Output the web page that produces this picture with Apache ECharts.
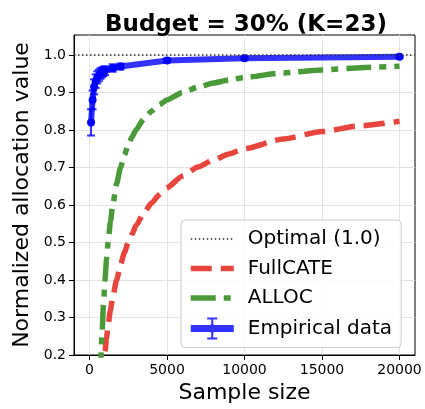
<!DOCTYPE html>
<html><head><meta charset="utf-8">
<script src="https://cdn.jsdelivr.net/npm/echarts@6/dist/echarts.min.js"></script>
<style>html,body{margin:0;padding:0;background:#fff}#c{width:425px;height:409px}</style>
</head><body><div id="c"></div>
<script>
const xTicks = [0, 5000, 10000, 15000, 20000];
const yTicks = [0.2, 0.3, 0.4, 0.5, 0.6, 0.7, 0.8, 0.9, 1.0];
const curveX = [700, 800, 900, 1000, 1100, 1200, 1350, 1500, 1750, 2000, 2250, 2500, 2750, 3000, 3500, 4000, 4500, 5000, 6000, 7000, 8000, 9000, 10000, 12500, 15000, 17500, 20000];
const fullcate = [0.05, 0.12, 0.17, 0.21, 0.245, 0.28, 0.32, 0.355, 0.40, 0.44, 0.473, 0.50, 0.523, 0.545, 0.578, 0.605, 0.627, 0.646, 0.677, 0.701, 0.72, 0.736, 0.75, 0.776, 0.796, 0.811, 0.823];
const alloc = [0.14, 0.25, 0.333, 0.40, 0.455, 0.50, 0.556, 0.60, 0.657, 0.70, 0.733, 0.76, 0.782, 0.80, 0.829, 0.85, 0.867, 0.88, 0.90, 0.914, 0.925, 0.933, 0.94, 0.952, 0.96, 0.966, 0.97];
const empX = [100, 200, 300, 400, 500, 600, 700, 800, 900, 1000, 1500, 2000, 5000, 10000, 20000];
const empY = [0.82, 0.88, 0.915, 0.93, 0.94, 0.945, 0.95, 0.953, 0.956, 0.958, 0.965, 0.969, 0.985, 0.991, 0.995];
const empErr = [0.035, 0.025, 0.02, 0.018, 0.016, 0.015, 0.014, 0.013, 0.012, 0.012, 0.01, 0.008, 0.005, 0.004, 0.003];
const optimalValue = 1.0;
const xMin = -1000, xMax = 21000, yMin = 0.2, yMax = 1.053;

const FONT = 'DejaVu Sans';
const BLUE = 'rgba(0,0,255,0.8)';
const RED = '#e8453c';
const GREEN = '#4a9a3a';
const RED_DASH = [21, 9];
const GREEN_DASH = [25, 8, 7, 8];
const DOT = [1.5, 2.5];

const chart = echarts.init(document.getElementById('c'), null, {renderer: 'canvas'});
const empIcon = 'path://M0 7.5 L43 7.5 L43 14.5 L0 14.5 Z ' +
  'M20.5 0 L22.5 0 L22.5 22 L20.5 22 Z ' +
  'M16.5 0 L26.5 0 L26.5 2 L16.5 2 Z M16.5 20 L26.5 20 L26.5 22 L16.5 22 Z ' +
  'M21.5 6.5 L24.7 7.8 L26 11 L24.7 14.2 L21.5 15.5 L18.3 14.2 L17 11 L18.3 7.8 Z';
const hidden = {opacity: 0, color: 'transparent', borderWidth: 0};

chart.setOption({
  animation: false,
  backgroundColor: '#fff',
  title: {
    text: 'Budget = 30% (K=23)', left: 100, top: 9,
    textStyle: {fontFamily: FONT, fontSize: 23, fontWeight: 'bold', color: '#000'}
  },
  grid: {left: 74, right: 10, top: 35, bottom: 50, show: true, borderColor: '#000', borderWidth: 1, backgroundColor: 'transparent'},
  legend: {
    orient: 'vertical', left: 181, top: 220,
    itemWidth: 43, itemHeight: 22, itemGap: 9.5,
    padding: [9, 9, 8, 7],
    backgroundColor: 'rgba(255,255,255,0.85)', borderColor: '#cccccc', borderWidth: 1, borderRadius: 4,
    textStyle: {fontFamily: FONT, fontSize: 20, color: '#000', padding: [0, 0, 0, 9]},
    data: [
      {name: 'Optimal (1.0)', itemStyle: hidden, lineStyle: {color: '#333', width: 1.5, type: DOT}},
      {name: 'FullCATE', itemStyle: hidden, lineStyle: {color: RED, width: 5.5, type: RED_DASH}},
      {name: 'ALLOC', itemStyle: hidden, lineStyle: {color: GREEN, width: 5.5, type: GREEN_DASH}},
      {name: 'Empirical data', icon: empIcon, itemStyle: {color: BLUE}}
    ]
  },
  xAxis: {
    type: 'value', min: xMin, max: xMax,
    name: 'Sample size', nameLocation: 'middle', nameGap: 27,
    nameTextStyle: {fontFamily: FONT, fontSize: 22, color: '#000'},
    axisLine: {show: true, onZero: false, lineStyle: {color: '#000', width: 1}},
    axisTick: {show: true, length: 5, lineStyle: {color: '#000'}, customValues: xTicks},
    axisLabel: {fontFamily: FONT, fontSize: 14, color: '#000', margin: 8, customValues: xTicks, formatter: v => String(v)},
    splitLine: {show: true, lineStyle: {color: '#e3e3e3', width: 1}}
  },
  yAxis: {
    type: 'value', min: yMin, max: yMax,
    name: 'Normalized allocation value', nameLocation: 'middle', nameGap: 41,
    nameTextStyle: {fontFamily: FONT, fontSize: 22, color: '#000'},
    axisLine: {show: true, onZero: false, lineStyle: {color: '#000', width: 1}},
    axisTick: {show: true, length: 5, lineStyle: {color: '#000'}, customValues: yTicks},
    axisLabel: {fontFamily: FONT, fontSize: 14, color: '#000', margin: 8, customValues: yTicks, formatter: v => v.toFixed(1)},
    splitLine: {show: true, lineStyle: {color: '#e3e3e3', width: 1}}
  },
  series: [
    {
      name: 'Optimal (1.0)', type: 'line', symbol: 'none', silent: true,
      data: [[xMin, optimalValue], [xMax, optimalValue]],
      lineStyle: {color: '#333', width: 1.5, type: DOT}, z: 5
    },
    {
      name: 'FullCATE', type: 'line', symbol: 'none', clip: true, smooth: 0.2, smoothMonotone: 'x',
      data: curveX.map((x, i) => [x, fullcate[i]]),
      lineStyle: {color: RED, width: 5.5, type: RED_DASH}, z: 2
    },
    {
      name: 'ALLOC', type: 'line', symbol: 'none', clip: true, smooth: 0.2, smoothMonotone: 'x',
      data: curveX.map((x, i) => [x, alloc[i]]),
      lineStyle: {color: GREEN, width: 5.5, type: GREEN_DASH}, z: 3
    },
    {
      name: 'Empirical data', type: 'line', symbol: 'circle', symbolSize: 8, showSymbol: true,
      data: empX.map((x, i) => [x, empY[i]]),
      lineStyle: {color: BLUE, width: 6}, itemStyle: {color: '#0000ff'}, z: 4
    },
    {
      name: 'Empirical data', type: 'custom', z: 4,
      data: empX.map((x, i) => [x, empY[i], empErr[i]]),
      encode: {x: 0, y: 1},
      renderItem: function (params, api) {
        const x = api.value(0), y = api.value(1), e = api.value(2);
        const t = api.coord([x, y + e]), b = api.coord([x, y - e]);
        const hw = 4;
        const st = {stroke: BLUE, lineWidth: 2};
        return {type: 'group', children: [
          {type: 'line', shape: {x1: t[0], y1: t[1], x2: b[0], y2: b[1]}, style: st},
          {type: 'line', shape: {x1: t[0] - hw, y1: t[1], x2: t[0] + hw, y2: t[1]}, style: st},
          {type: 'line', shape: {x1: b[0] - hw, y1: b[1], x2: b[0] + hw, y2: b[1]}, style: st}
        ]};
      }
    }
  ]
});
</script></body></html>
